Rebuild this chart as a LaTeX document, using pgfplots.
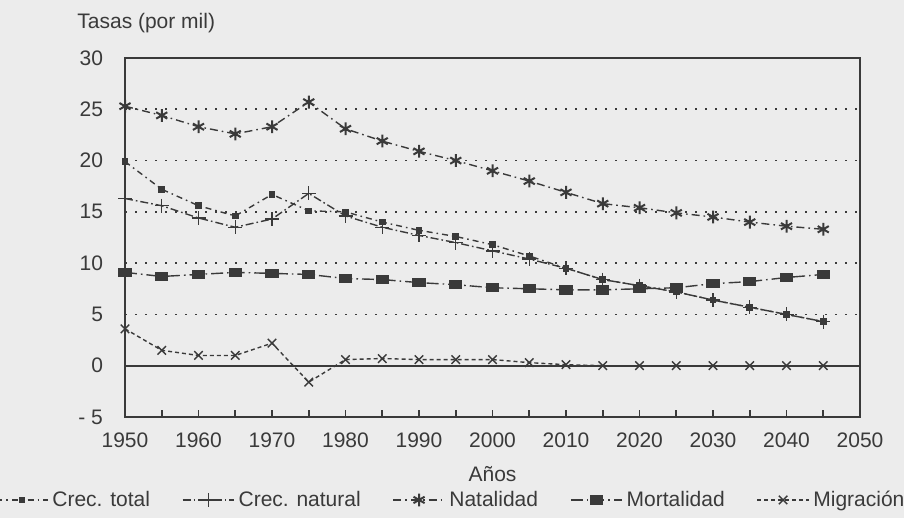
\documentclass[border=0pt]{standalone}
\usepackage{pgfplots}
\pgfplotsset{compat=1.18}
\usepackage{pgfplotstable}
\usepackage{fontspec}
\setmainfont{Liberation Sans}
\definecolor{papel}{HTML}{ECECEC}
\definecolor{tinta}{HTML}{3A3A3A}

% anio natalidad mortalidad natural migracion total
\pgfplotstableread{
anio nat mort natu migr tot
1950 25.3 9.1 16.3 3.6 19.9
1955 24.4 8.7 15.6 1.5 17.2
1960 23.3 8.9 14.4 1.0 15.6
1965 22.6 9.1 13.5 1.0 14.6
1970 23.3 9.0 14.3 2.2 16.7
1975 25.7 8.9 16.8 -1.6 15.1
1980 23.1 8.5 14.6 0.6 15.0
1985 21.9 8.4 13.5 0.7 14.0
1990 20.9 8.1 12.7 0.6 13.2
1995 20.0 7.9 12.0 0.6 12.6
2000 19.0 7.6 11.2 0.6 11.8
2005 18.0 7.5 10.4 0.3 10.7
2010 16.9 7.4 9.5 0.1 9.5
2015 15.8 7.4 8.4 0.0 8.4
2020 15.4 7.5 7.8 0.0 7.8
2025 14.9 7.6 7.2 0.0 7.2
2030 14.5 8.0 6.4 0.0 6.4
2035 14.0 8.2 5.7 0.0 5.7
2040 13.6 8.6 5.0 0.0 5.0
2045 13.3 8.9 4.3 0.0 4.3
}\datos

\begin{document}
\begin{tikzpicture}
\fill[papel] (0,0) rectangle (452pt,259pt);
\path[use as bounding box] (0,0) rectangle (452pt,259pt);
\begin{axis}[
    at={(62.5pt,50.5pt)}, anchor=south west,
    scale only axis, width=367.5pt, height=179.5pt,
    xmin=1950, xmax=2050, ymin=-5, ymax=30,
    font=\fontsize{10.5}{12}\selectfont,
    axis line style={tinta, line width=0.9pt},
    xtick={1950,1960,...,2050},
    xticklabels={1950,1960,1970,1980,1990,2000,2010,2020,2030,2040,2050},
    minor xtick={1955,1965,...,2045},
    ytick={-5,0,5,...,30},
    yticklabels={- 5,0,5,10,15,20,25,30},
    tick align=inside, xtick pos=bottom, ytick pos=left,
    major tick length=3.5pt, minor tick length=3.5pt,
    xtick style={tinta, line width=0.8pt},
    ytick style={draw=none},
    xticklabel style={anchor=center, yshift=-11.5pt, text=tinta},
    yticklabel style={xshift=-7.5pt, text=tinta},
    ymajorgrids=true,
    grid style={tinta, line width=0.8pt, dash pattern=on 1pt off 4pt},
    xlabel={Años},
    xlabel style={at={(axis description cs:0.5,-0.159)}, anchor=center, text=tinta},
    legend columns=5,
    legend style={at={(0.445,-0.231)}, anchor=center, draw=none, fill=none,
        text=tinta, font=\fontsize{10.5}{12}\selectfont,
        /tikz/every even column/.append style={column sep=14pt}},
    legend image code/.code={%
        \draw[mark repeat=2,mark phase=2,#1]
        plot coordinates {(0cm,0cm) (0.45cm,0cm) (0.9cm,0cm)};},
    every axis plot/.append style={tinta, line width=0.7pt},
]
\addplot[mark=square*, mark size=1.3pt, dash pattern=on 3pt off 2pt on 0.8pt off 2pt, mark options={solid}]
    table[x=anio, y=tot] {\datos};
\addplot[mark=+, mark size=3.5pt, dash pattern=on 4pt off 1.5pt on 0.8pt off 1.5pt, mark options={solid}]
    table[x=anio, y=natu] {\datos};
\addplot[mark=asterisk, mark size=3.2pt, dash pattern=on 4pt off 2pt on 0.8pt off 2pt, mark options={solid, line width=1pt}]
    table[x=anio, y=nat] {\datos};
\addplot[mark=square*, mark size=2pt, dash pattern=on 6pt off 2pt on 0.8pt off 2pt, mark options={solid, xscale=1.5}]
    table[x=anio, y=mort] {\datos};
\addplot[mark=x, mark size=3pt, dash pattern=on 2pt off 1.5pt, mark options={solid}]
    table[x=anio, y=migr] {\datos};
\legend{Crec. total, Crec. natural, Natalidad, Mortalidad, Migración}
\draw[tinta, line width=0.9pt] (axis cs:1950,0) -- (axis cs:2050,0);
\end{axis}
\node[anchor=west, text=tinta, font=\fontsize{10.5}{12}\selectfont, inner sep=0pt] at (38.5pt,247.5pt) {Tasas (por mil)};
\end{tikzpicture}
\end{document}
